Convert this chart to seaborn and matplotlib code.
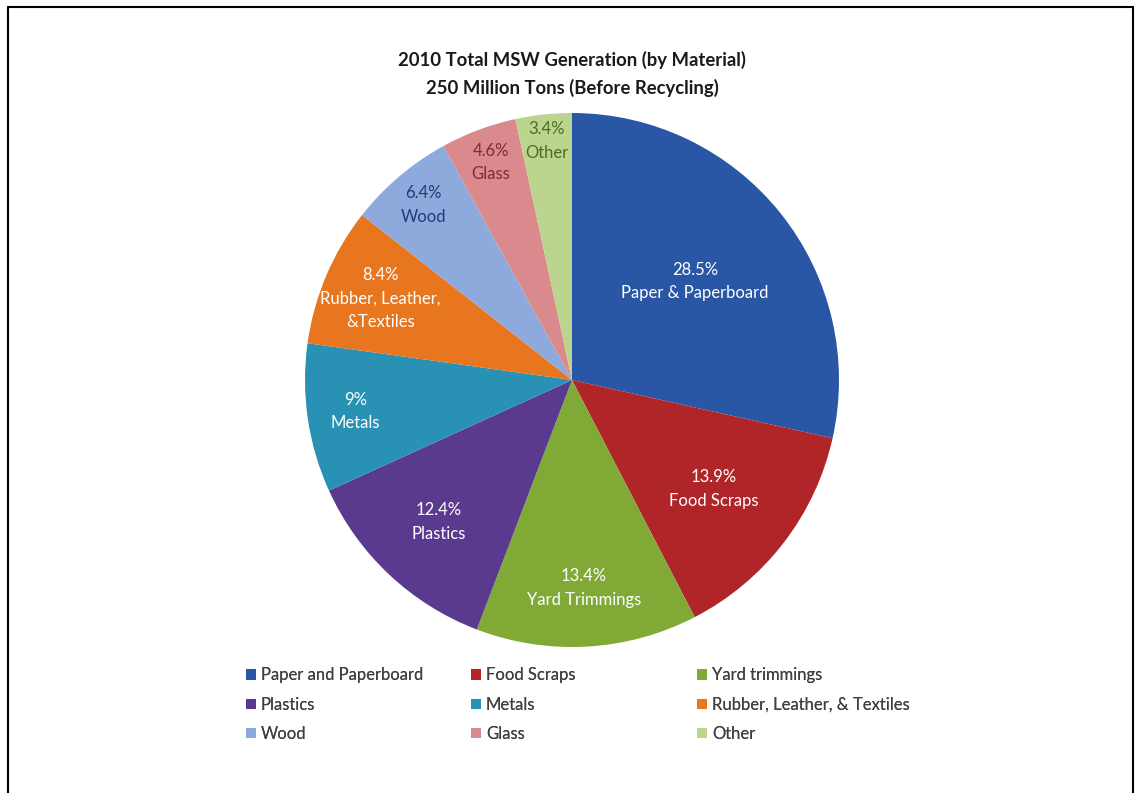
import matplotlib
matplotlib.use("Agg")
import matplotlib.pyplot as plt
from matplotlib.lines import Line2D
from matplotlib.patches import Patch
import numpy as np
import seaborn as sns

# ---- data ----
categories = ["Paper and Paperboard", "Food Scraps", "Yard trimmings",
              "Plastics", "Metals", "Rubber, Leather, & Textiles",
              "Wood", "Glass", "Other"]
slice_labels = ["Paper & Paperboard", "Food Scraps", "Yard Trimmings",
                "Plastics", "Metals", "Rubber, Leather,\n&Textiles",
                "Wood", "Glass", "Other"]
pct_labels = ["28.5%", "13.9%", "13.4%", "12.4%", "9%", "8.4%", "6.4%", "4.6%", "3.4%"]
values = [28.5, 13.9, 13.4, 12.4, 9.0, 8.4, 6.4, 4.6, 3.4]

colors = ["#2A56A6", "#B02528", "#80AA35", "#5A3A8E", "#2992B4",
          "#E7761E", "#8EAADC", "#DA8A8C", "#BBD58F"]
text_colors = ["white", "white", "white", "white", "white", "white",
               "#1F3C78", "#7A2A3A", "#4F6B22"]
label_radius = [0.59, 0.67, 0.78, 0.73, 0.82, 0.78, 0.86, 0.87, 0.90]

sns.set_theme(style="white")
plt.rcParams['font.family'] = ['Lato', 'DejaVu Sans']

fig = plt.figure(figsize=(11.38, 7.93), dpi=100)
fig.patch.set_facecolor("white")

W, H = 1138, 793
cx, cy, R = 572, 380, 267
ax = fig.add_axes([(cx - R) / W, (H - cy - R) / H, 2 * R / W, 2 * R / H])
wedges, _ = ax.pie(values, colors=colors, startangle=90, counterclock=False,
                   radius=1.0, wedgeprops=dict(linewidth=0))
ax.set_xlim(-1, 1)
ax.set_ylim(-1, 1)
ax.set_aspect("equal")
ax.axis("off")

for w, pl, sl, tc, rf in zip(wedges, pct_labels, slice_labels, text_colors, label_radius):
    ang = np.deg2rad((w.theta1 + w.theta2) / 2)
    x, y = rf * np.cos(ang), rf * np.sin(ang)
    ax.text(x, y, pl + "\n" + sl, ha="center", va="center", color=tc,
            fontsize=12, linespacing=1.6)

# title
fig.text(cx / W, 1 - 60 / H, "2010 Total MSW Generation (by Material)",
         ha="center", va="center", fontsize=13.3, fontweight="bold", color="#1a1a1a")
fig.text(cx / W, 1 - 88 / H, "250 Million Tons (Before Recycling)",
         ha="center", va="center", fontsize=13.3, fontweight="bold", color="#1a1a1a")

# legend: three columns of equal width
col_x = [238, 463, 689]
for c in range(3):
    idx = [c, c + 3, c + 6]
    handles = [Patch(facecolor=colors[i], edgecolor="none") for i in idx]
    labels = [categories[i] for i in idx]
    leg = fig.legend(handles, labels, loc="upper left",
                     bbox_to_anchor=(col_x[c] / W, 1 - 659 / H),
                     frameon=False, fontsize=12, handlelength=0.57, handleheight=0.57,
                     handletextpad=0.3, labelspacing=0.8, borderpad=0,
                     labelcolor="#404040")
    fig.add_artist(leg)

# border
lw = 1.5
xl, xr, yt = 8 / W, 1133 / W, 1 - 7 / H
fig.add_artist(Line2D([xl, xl], [0, yt], color="black", lw=lw, transform=fig.transFigure))
fig.add_artist(Line2D([xl, xr], [yt, yt], color="black", lw=lw, transform=fig.transFigure))
fig.add_artist(Line2D([xr, xr], [0, yt], color="black", lw=lw, transform=fig.transFigure))

fig.savefig("out.png", dpi=100, facecolor="white")
